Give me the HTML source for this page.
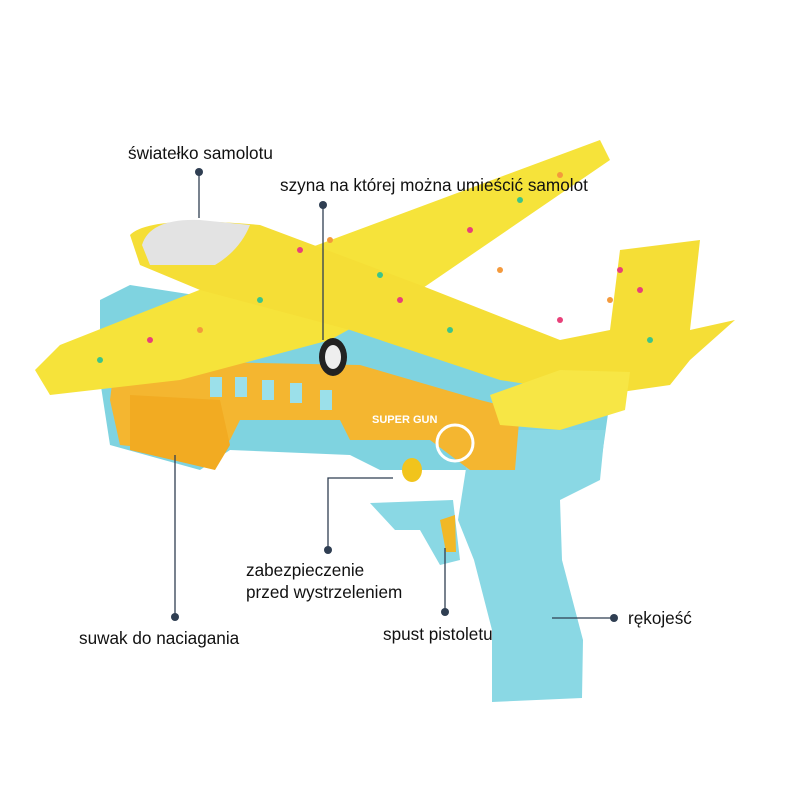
<!DOCTYPE html>
<html><head><meta charset="utf-8"><style>
html,body{margin:0;padding:0;background:#fff;}
.w{position:relative;width:790px;height:801px;overflow:hidden;font-family:"Liberation Sans",sans-serif;}
.t{position:absolute;font-size:17.5px;color:#111;line-height:22px;white-space:nowrap;transform-origin:0 0;transform:scaleX(0.98);}
</style></head><body><div class="w">
<svg width="790" height="801" style="position:absolute;left:0;top:0">
<polygon points="100,300 130,285 420,330 600,360 610,400 600,470 540,480 500,470 380,470 350,455 230,450 200,470 110,445 100,380" fill="#7fd3e0"/>
<path d="M472,430 L605,430 L600,480 L560,500 L562,560 L583,640 L582,698 L492,702 L492,630 L474,560 L458,520 Z" fill="#8ad8e4"/>
<path d="M370,503 L453,500 L460,560 L440,565 L420,530 L395,530 Z" fill="#8ad8e4"/>
<path d="M440,520 L455,515 L456,552 L446,552 Z" fill="#f1b826"/>
<polygon points="115,360 360,365 480,400 520,410 515,470 470,470 430,440 350,440 340,420 240,420 230,440 210,455 120,445 110,400" fill="#f4b630"/>
<polygon points="130,395 220,400 230,445 215,470 130,450" fill="#f2ab22"/>
<rect x="210" y="377" width="12" height="20" fill="#9be0ea"/>
<rect x="235" y="377" width="12" height="20" fill="#9be0ea"/>
<rect x="262" y="380" width="12" height="20" fill="#9be0ea"/>
<rect x="290" y="383" width="12" height="20" fill="#9be0ea"/>
<rect x="320" y="390" width="12" height="20" fill="#9be0ea"/>
<text x="372" y="423" font-family="Liberation Sans" font-size="11" font-weight="bold" fill="#fff">SUPER GUN</text>
<circle cx="455" cy="443" r="18" fill="none" stroke="#fff" stroke-width="3"/>
<ellipse cx="412" cy="470" rx="10" ry="12" fill="#f1c41c"/>
<polygon points="35,370 60,345 250,270 600,140 610,160 420,290 330,340 180,380 50,395" fill="#f6e33a"/>
<path d="M130,235 Q150,215 260,225 L420,285 L560,340 L610,330 L620,250 L700,240 L690,330 L735,320 L690,360 L670,385 L600,395 L500,380 L350,330 L200,290 L140,265 Z" fill="#f5de36"/>
<polygon points="490,395 560,370 630,372 625,410 560,430 500,425" fill="#f7e645"/>
<path d="M142,245 Q150,218 200,220 L250,225 Q240,250 215,265 L150,265 Z" fill="#e3e3e3"/>
<ellipse cx="333" cy="357" rx="14" ry="19" fill="#222"/>
<ellipse cx="333" cy="357" rx="8" ry="12" fill="#eee"/>
<g fill="#e8407a"><circle cx="300" cy="250" r="3"/><circle cx="470" cy="230" r="3"/><circle cx="640" cy="290" r="3"/><circle cx="150" cy="340" r="3"/><circle cx="560" cy="320" r="3"/><circle cx="620" cy="270" r="3"/><circle cx="400" cy="300" r="3"/></g>
<g fill="#3cc48a"><circle cx="260" cy="300" r="3"/><circle cx="520" cy="200" r="3"/><circle cx="380" cy="275" r="3"/><circle cx="100" cy="360" r="3"/><circle cx="650" cy="340" r="3"/><circle cx="450" cy="330" r="3"/></g>
<g fill="#f49a3c"><circle cx="330" cy="240" r="3"/><circle cx="560" cy="175" r="3"/><circle cx="200" cy="330" r="3"/><circle cx="610" cy="300" r="3"/><circle cx="500" cy="270" r="3"/></g>
<g stroke="#2f3e52" stroke-width="1.3" fill="none">
<line x1="199" y1="172" x2="199" y2="218"/>
<line x1="323" y1="205" x2="323" y2="340"/>
<polyline points="328,550 328,478 393,478"/>
<line x1="175" y1="617" x2="175" y2="455"/>
<line x1="445" y1="612" x2="445" y2="548"/>
<line x1="614" y1="618" x2="552" y2="618"/>
</g>
<g fill="#2f3e52">
<circle cx="199" cy="172" r="4"/><circle cx="323" cy="205" r="4"/><circle cx="328" cy="550" r="4"/>
<circle cx="175" cy="617" r="4"/><circle cx="445" cy="612" r="4"/><circle cx="614" cy="618" r="4"/>
</g>
</svg>
<div class="t" style="left:128px;top:142px">światełko samolotu</div>
<div class="t" style="left:280px;top:174px">szyna na której można umieścić samolot</div>
<div class="t" style="left:246px;top:559px">zabezpieczenie<br>przed wystrzeleniem</div>
<div class="t" style="left:79px;top:627px">suwak do naciagania</div>
<div class="t" style="left:383px;top:623px">spust pistoletu</div>
<div class="t" style="left:628px;top:607px">rękojeść</div>
</div></body></html>
